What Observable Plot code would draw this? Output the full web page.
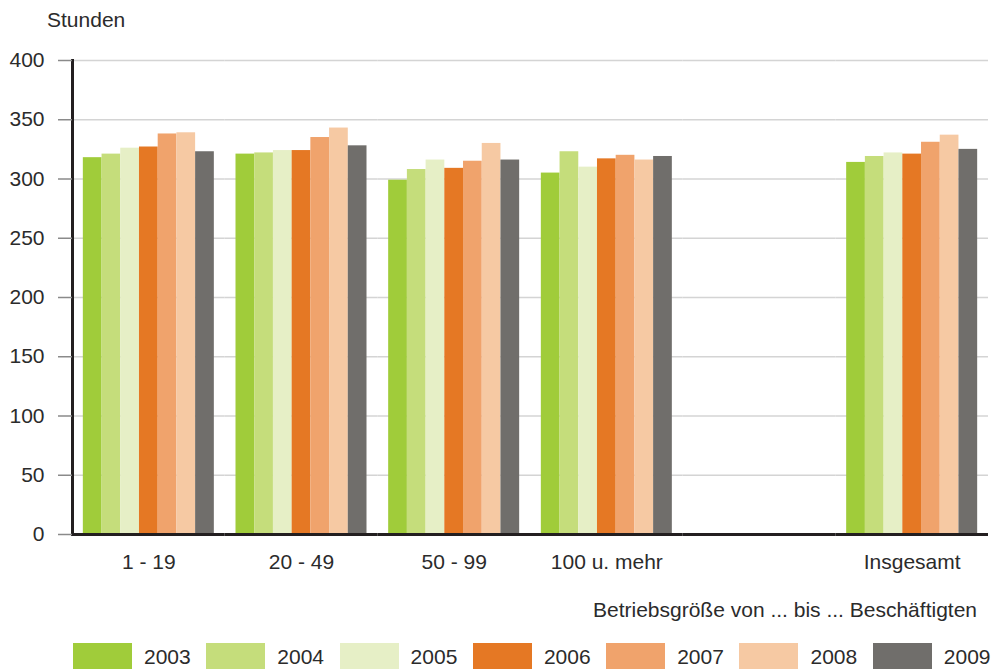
<!DOCTYPE html>
<html>
<head>
<meta charset="utf-8">
<script src="https://cdn.jsdelivr.net/npm/d3@7"></script>
<script src="https://cdn.jsdelivr.net/npm/@observablehq/plot@0.6"></script>
<style>
  html, body { margin: 0; padding: 0; background: #fff; }
  #wrap { position: relative; width: 992px; height: 670px; font-family: "Liberation Sans", Arial, sans-serif; color: #2b2b2b; }
  #chart { position: absolute; left: 0; top: 0; }
  #ylabel { position: absolute; left: 47px; top: 9px; font-size: 21px; line-height: 21px; }
  #caption { position: absolute; right: 15px; top: 599px; font-size: 21px; line-height: 21px; white-space: nowrap; }
  #legend { position: absolute; left: 73px; top: 643px; display: flex; }
  .item { display: flex; align-items: center; width: 133.3px; }
  .sw { width: 59px; height: 26px; margin-right: 12px; flex: none; }
  .lab { font-size: 21px; line-height: 21px; }
</style>
</head>
<body>
<div id="wrap">
  <div id="chart"></div>
  <div id="ylabel">Stunden</div>
  <div id="caption">Betriebsgröße von ... bis ... Beschäftigten</div>
  <div id="legend"></div>
</div>
<script>
// Categories ("" is the empty slot between "100 u. mehr" and "Insgesamt")
const groups = ["1 - 19", "20 - 49", "50 - 99", "100 u. mehr", "", "Insgesamt"];
const years = ["2003", "2004", "2005", "2006", "2007", "2008", "2009"];
const colors = ["#a0cc3a", "#c5dd7b", "#e6efc6", "#e57824", "#f0a36c", "#f6c9a3", "#706e6b"];
const yTicks = [0, 50, 100, 150, 200, 250, 300, 350, 400];

// Series values (Stunden), one array per Betriebsgröße, in year order 2003..2009
const vals_1_19 = [318, 321, 326, 327, 338, 339, 323];
const vals_20_49 = [321, 322, 324, 324, 335, 343, 328];
const vals_50_99 = [299, 308, 316, 309, 315, 330, 316];
const vals_100 = [305, 323, 310, 317, 320, 316, 319];
const vals_gesamt = [314, 319, 322, 321, 331, 337, 325];

const seriesByGroup = [
  ["1 - 19", vals_1_19],
  ["20 - 49", vals_20_49],
  ["50 - 99", vals_50_99],
  ["100 u. mehr", vals_100],
  ["Insgesamt", vals_gesamt]
];
const data = seriesByGroup.flatMap(([group, vals]) =>
  vals.map((value, i) => ({group, year: years[i], value}))
);
// grid rows for every facet slot (incl. the empty one) so lines run continuously
const gridRows = groups.flatMap(group => yTicks.filter(t => t > 0).map(tick => ({group, tick})));
const baseRows = groups.map(group => ({group, tick: 0}));

const chart = Plot.plot({
  width: 992,
  height: 580,
  marginTop: 60,
  marginLeft: 72,
  marginRight: 4,
  marginBottom: 46,
  style: {fontFamily: "'Liberation Sans', Arial, sans-serif", fontSize: "21px", color: "#2b2b2b", background: "white", overflow: "visible"},
  fx: {domain: groups, paddingInner: 0, paddingOuter: 0, round: false, label: null},
  x: {domain: years, paddingInner: 0, paddingOuter: 0.579, round: false, axis: null},
  y: {domain: [0, 400], label: null},
  color: {domain: years, range: colors},
  marks: [
    Plot.ruleY(gridRows, {fx: "group", y: "tick", stroke: "#d4d4d4", strokeWidth: 1.5}),
    Plot.barY(data, {fx: "group", x: "year", y: "value", fill: "year"}),
    Plot.ruleY(baseRows, {fx: "group", y: "tick", stroke: "#231f20", strokeWidth: 3}),
    Plot.frame({anchor: "left", facet: "super", stroke: "#231f20", strokeWidth: 3}),
    Plot.axisY({ticks: yTicks, tickSize: 14, tickPadding: 14, stroke: "#8a8a8a", strokeWidth: 1.5, fill: "#2b2b2b", fontSize: 21, label: null}),
    Plot.axisFx({anchor: "bottom", tickSize: 0, tickPadding: 20, fontSize: 21, fill: "#2b2b2b", label: null})
  ]
});
document.getElementById("chart").appendChild(chart);

// Legend
const legend = document.getElementById("legend");
years.forEach((y, i) => {
  const item = document.createElement("div");
  item.className = "item";
  const sw = document.createElement("div");
  sw.className = "sw";
  sw.style.background = colors[i];
  const lab = document.createElement("span");
  lab.className = "lab";
  lab.textContent = y;
  item.appendChild(sw);
  item.appendChild(lab);
  legend.appendChild(item);
});
</script>
</body>
</html>
